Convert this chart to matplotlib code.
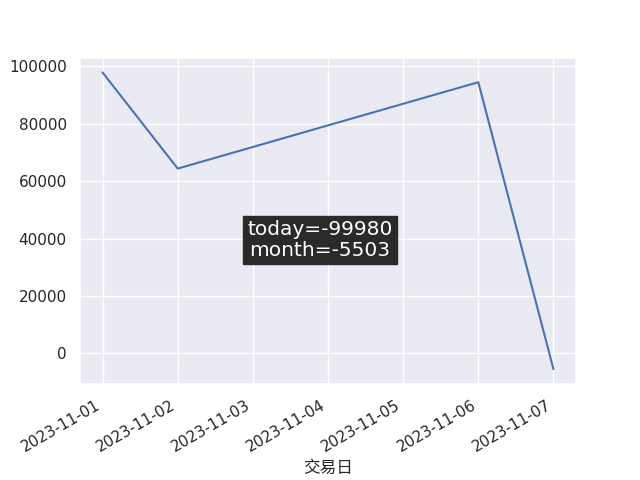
import pandas as pd
import matplotlib
matplotlib.use("Agg")
import matplotlib.pyplot as plt
import matplotlib.dates as mdates
import seaborn as sns

sns.set_theme(style="darkgrid")

# data
dates = ["2023-11-01", "2023-11-02", "2023-11-06", "2023-11-07"]
balance = [97900, 64400, 94500, -5503]
today_val = -99980
month_val = -5503
xlabel = "交易日"

x = pd.to_datetime(dates)

fig, ax = plt.subplots(figsize=(6.4, 4.8), dpi=100)
ax.plot(x, balance, color="#4c72b0", linewidth=1.5)
ax.xaxis.set_major_locator(mdates.DayLocator())
ax.xaxis.set_major_formatter(mdates.DateFormatter("%Y-%m-%d"))
ax.set_xlabel(xlabel, family=["Noto Sans CJK SC", "DejaVu Sans"])
fig.autofmt_xdate()

fig.text(0.5, 0.5, f"today={today_val}\nmonth={month_val}",
         ha="center", va="center", fontsize=14.5, color="white",
         linespacing=1.15,
         bbox=dict(facecolor="#2a2a2a", edgecolor="#2a2a2a", alpha=1.0, pad=3))

plt.savefig("out.png", dpi=100)
